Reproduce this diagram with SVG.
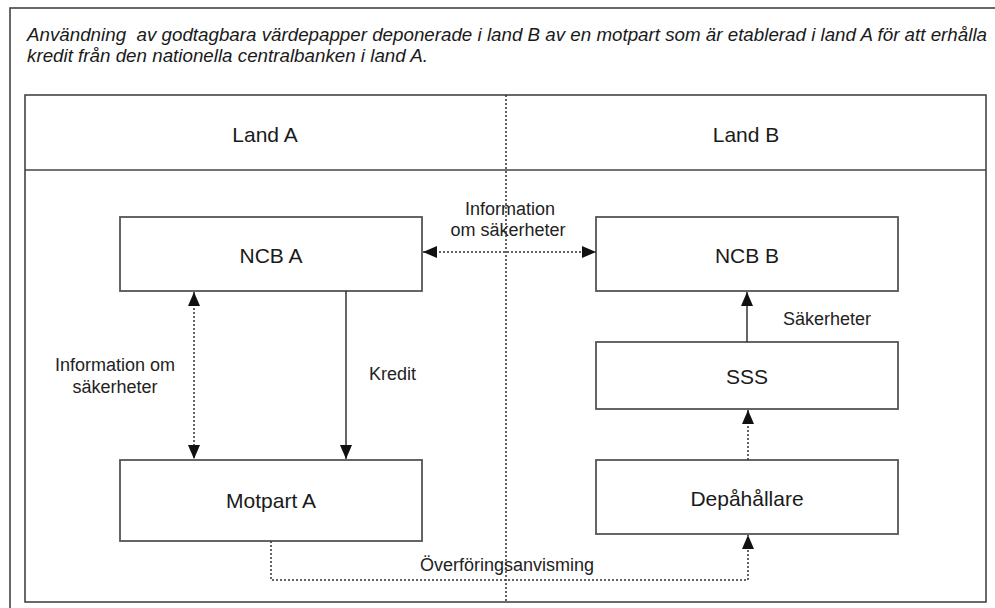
<svg xmlns="http://www.w3.org/2000/svg" width="995" height="608" viewBox="0 0 995 608">
<defs>
<marker id="arr" markerUnits="userSpaceOnUse" markerWidth="14" markerHeight="12" refX="14" refY="6" orient="auto-start-reverse">
<path d="M0,0 L14,6 L0,12 z" fill="#111"/>
</marker>
<style>
.frame{fill:none;stroke:#444;stroke-width:1.6}
.box{fill:#fff;stroke:#555;stroke-width:1.8}
.lbl{font-family:"Liberation Sans",Arial,sans-serif;font-size:21px;fill:#1a1a1a;text-anchor:middle}
.sm{font-family:"Liberation Sans",Arial,sans-serif;font-size:18px;fill:#222}
.title{font-family:"Liberation Sans",Arial,sans-serif;font-size:18px;font-style:italic;fill:#1a1a1a}
.solid{fill:none;stroke:#333;stroke-width:1.5}
.dot{fill:none;stroke:#333;stroke-width:1.5;stroke-dasharray:2,2}
</style>
</defs>
<rect width="995" height="608" fill="#fff"/>
<g id="outer">
<rect x="10" y="8" width="1000" height="620" class="frame"/>
</g>
<g id="title">
<text class="title" x="27" y="41" textLength="960" lengthAdjust="spacingAndGlyphs" xml:space="preserve">Användning  av godtagbara värdepapper deponerade i land B av en motpart som är etablerad i land A för att erhålla</text>
<text class="title" x="27" y="62" textLength="401" lengthAdjust="spacingAndGlyphs">kredit från den nationella centralbanken i land A.</text>
</g>
<g id="frame">
<rect x="25" y="95" width="961" height="507" class="frame"/>
<line x1="25" y1="170" x2="986" y2="170" class="frame"/>
<text class="lbl" x="265" y="142">Land A</text>
<text class="lbl" x="746" y="142">Land B</text>
</g>
<g id="ncbA">
<rect x="120" y="217" width="302" height="74" class="box"/>
<text class="lbl" x="271" y="263">NCB A</text>
</g>
<g id="ncbB">
<rect x="596" y="217" width="302" height="74" class="box"/>
<text class="lbl" x="747" y="263">NCB B</text>
</g>
<g id="motpartA">
<rect x="120" y="460" width="302" height="81" class="box"/>
<text class="lbl" x="271" y="508">Motpart A</text>
</g>
<g id="sss">
<rect x="596" y="342" width="302" height="67" class="box"/>
<text class="lbl" x="747" y="384">SSS</text>
</g>
<g id="depa">
<rect x="596" y="460" width="302" height="74" class="box"/>
<text class="lbl" x="747" y="506">Depåhållare</text>
</g>
<g id="connectors">
<line x1="506" y1="95" x2="506" y2="602" class="dot"/>
<line x1="423" y1="252" x2="596" y2="252" class="dot" marker-start="url(#arr)" marker-end="url(#arr)"/>
<line x1="194" y1="292" x2="194" y2="459" class="dot" marker-start="url(#arr)" marker-end="url(#arr)"/>
<line x1="346" y1="291" x2="346" y2="459" class="solid" marker-end="url(#arr)"/>
<line x1="747" y1="342" x2="747" y2="292" class="solid" marker-end="url(#arr)"/>
<line x1="748" y1="460" x2="748" y2="410" class="dot" marker-end="url(#arr)"/>
<polyline points="271,541 271,580 748,580 748,535" class="dot" marker-end="url(#arr)"/>
<text class="sm" x="510" y="215" text-anchor="middle">Information</text>
<text class="sm" x="508" y="236" text-anchor="middle">om säkerheter</text>
<text class="sm" x="115" y="371" text-anchor="middle">Information om</text>
<text class="sm" x="115" y="393" text-anchor="middle">säkerheter</text>
<text class="sm" x="369" y="380">Kredit</text>
<text class="sm" x="783" y="325">Säkerheter</text>
<text class="sm" x="507" y="571" text-anchor="middle">Överföringsanvisming</text>
</g>
</svg>
